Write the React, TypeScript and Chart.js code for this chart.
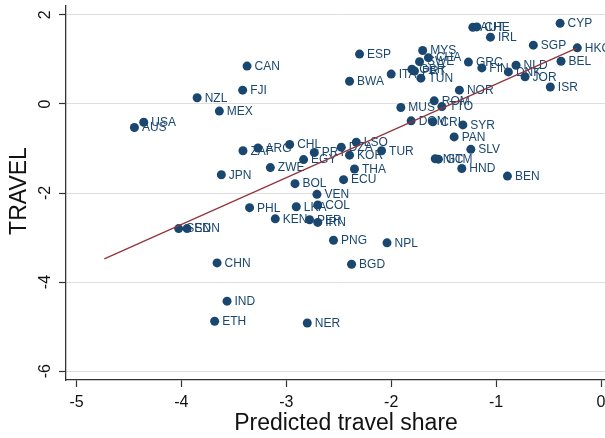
import React, { useEffect, useRef } from "react";
import { Chart, registerables } from "chart.js";

Chart.register(...registerables);

const codes = [
  "CYP", "HKG", "BEL", "SGP", "ISR", "NLD", "DNK", "JOR", "FIN", "GRC",
  "IRL", "AUT", "CHE", "MYS", "CHA", "SWE", "GBR", "PRT", "TUN", "ITA",
  "ESP", "BWA", "NOR", "ROM", "MUS", "TTO", "DOM", "CRI", "SYR", "PAN",
  "SLV", "NIC", "GTM", "HND", "BEN", "TUR", "LSO", "KOR", "DZA", "THA",
  "ECU", "PRY", "EGY", "CHL", "ARG", "ZAF", "ZWE", "JPN", "BOL", "VEN",
  "COL", "LKA", "PHL", "KEN", "PER", "IRN", "PNG", "NPL", "BGD", "CHN",
  "IND", "ETH", "NER", "SEN", "SDN", "CAN", "FJI", "NZL", "MEX", "USA",
  "AUS",
];
const predictedShare = [
  -0.39, -0.226, -0.381, -0.645, -0.483, -0.81, -0.883, -0.724, -1.136, -1.264,
  -1.054, -1.222, -1.184, -1.7, -1.645, -1.73, -1.803, -1.778, -1.717, -2.0,
  -2.302, -2.397, -1.35, -1.59, -1.908, -1.517, -1.81, -1.603, -1.317, -1.4,
  -1.241, -1.58, -1.55, -1.327, -0.892, -2.092, -2.333, -2.397, -2.476, -2.35,
  -2.454, -2.733, -2.835, -2.968, -3.27, -3.413, -3.152, -3.619, -2.917, -2.708,
  -2.7, -2.905, -3.35, -3.105, -2.778, -2.7, -2.55, -2.04, -2.378, -3.66,
  -3.565, -3.683, -2.8, -4.026, -3.946, -3.374, -3.416, -3.85, -3.638, -4.359,
  -4.448,
];
const travel = [
  1.81, 1.26, 0.96, 1.32, 0.38, 0.87, 0.72, 0.61, 0.81, 0.94,
  1.5, 1.72, 1.73, 1.2, 1.04, 0.95, 0.78, 0.74, 0.58, 0.67,
  1.12, 0.51, 0.31, 0.07, -0.08, -0.06, -0.38, -0.4, -0.47, -0.74,
  -1.02, -1.23, -1.24, -1.45, -1.62, -1.05, -0.86, -1.15, -0.97, -1.46,
  -1.7, -1.09, -1.25, -0.91, -0.99, -1.05, -1.43, -1.59, -1.79, -2.03,
  -2.27, -2.31, -2.33, -2.58, -2.6, -2.66, -3.06, -3.12, -3.6, -3.57,
  -4.43, -4.88, -4.92, -2.8, -2.8, 0.85, 0.31, 0.14, -0.16, -0.41,
  -0.53,
];
const fitX = [-4.735, -0.226];
const fitY = [-3.48, 1.26];
const xTicks = [-5, -4, -3, -2, -1, 0];
const yTicks = [-6, -4, -2, 0, 2];

const NAVY = "#1a476f";
const FONT = "'Liberation Sans', Arial, sans-serif";

export default function App() {
  const ref = useRef<HTMLCanvasElement | null>(null);
  useEffect(() => {
    if (!ref.current) return;
    const labelPlugin = {
      id: "customText",
      beforeDatasetsDraw(chart: any) {
        const ctx = chart.ctx;
        const xs = chart.scales.x;
        const ys = chart.scales.y;
        ctx.save();
        ctx.font = `12px ${FONT}`;
        ctx.fillStyle = NAVY;
        ctx.textAlign = "left";
        ctx.textBaseline = "middle";
        codes.forEach((c, i) => {
          const px = xs.getPixelForValue(predictedShare[i]);
          const py = ys.getPixelForValue(travel[i]);
          ctx.fillText(c, px + 7.5, py + 0.5);
        });
        ctx.restore();
      },
      afterDraw(chart: any) {
        const ctx = chart.ctx;
        const xs = chart.scales.x;
        const ys = chart.scales.y;
        ctx.save();
        ctx.fillStyle = "#111";
        ctx.font = `16px ${FONT}`;
        ctx.textAlign = "center";
        ctx.textBaseline = "middle";
        xTicks.forEach((v) => {
          ctx.fillText(String(v), xs.getPixelForValue(v), 403);
        });
        yTicks.forEach((v) => {
          ctx.save();
          ctx.translate(46, ys.getPixelForValue(v));
          ctx.rotate(-Math.PI / 2);
          ctx.fillText(String(v), 0, 0);
          ctx.restore();
        });
        ctx.font = `23px ${FONT}`;
        ctx.fillText("Predicted travel share", 346, 424);
        ctx.save();
        ctx.translate(20, 191);
        ctx.rotate(-Math.PI / 2);
        ctx.fillText("TRAVEL", 0, 0);
        ctx.restore();
        ctx.restore();
      },
    };
    const chart = new Chart(ref.current, {
      type: "scatter",
      data: {
        datasets: [
          {
            type: "line",
            data: fitX.map((x, i) => ({ x, y: fitY[i] })),
            borderColor: "#90353b",
            borderWidth: 1.2,
            pointRadius: 0,
            fill: false,
            order: 0,
          } as any,
          {
            data: predictedShare.map((x, i) => ({ x, y: travel[i] })),
            backgroundColor: NAVY,
            borderWidth: 0,
            pointRadius: 4.5,
            order: 1,
          },
        ],
      },
      options: {
        animation: false,
        responsive: false,
        devicePixelRatio: 1,
        layout: { padding: { top: 6, right: 8.5, left: 0, bottom: 0 } },
        plugins: {
          legend: { display: false },
          tooltip: { enabled: false },
        },
        scales: {
          x: {
            type: "linear",
            min: -5.1,
            max: 0.1,
            afterBuildTicks: (s: any) => {
              s.ticks = xTicks.map((v) => ({ value: v }));
            },
            afterFit: (s: any) => {
              s.height = 58;
            },
            ticks: { display: false },
            grid: {
              drawOnChartArea: false,
              drawTicks: true,
              tickLength: 7,
              tickColor: "#333",
              tickWidth: 1.2,
            },
            border: { display: true, color: "#333", width: 1.3 },
          },
          y: {
            type: "linear",
            min: -6.2,
            max: 2.2,
            afterBuildTicks: (s: any) => {
              s.ticks = yTicks.map((v) => ({ value: v }));
            },
            afterFit: (s: any) => {
              s.width = 66;
            },
            ticks: { display: false },
            grid: {
              color: "#dedede",
              lineWidth: 1,
              drawTicks: true,
              tickLength: 7,
              tickColor: "#333",
              tickWidth: 1.2,
            },
            border: { display: true, color: "#333", width: 1.3 },
          },
        },
      },
      plugins: [labelPlugin],
    });
    return () => chart.destroy();
  }, []);
  return (
    <div
      style={{
        position: "fixed",
        left: 0,
        top: 0,
        width: 605,
        height: 438,
        overflow: "hidden",
        background: "#fff",
      }}
    >
      <canvas ref={ref} width={620} height={438} style={{ display: "block" }} />
    </div>
  );
}
